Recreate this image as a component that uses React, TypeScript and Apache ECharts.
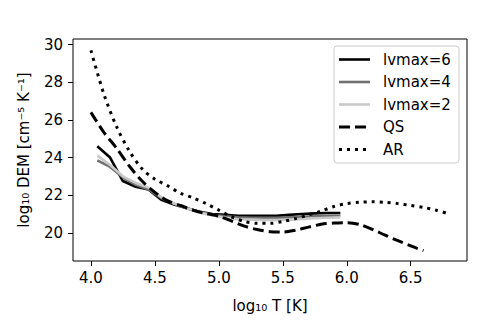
import React, { useEffect, useRef } from "react";
import * as echarts from "echarts";

const tBins = [4.05, 4.15, 4.25, 4.35, 4.45, 4.55, 4.65, 4.75, 4.85, 4.95, 5.05, 5.15, 5.25, 5.35, 5.45, 5.55, 5.65, 5.75, 5.85, 5.95];
const lvmax6 = [24.6, 24.0, 22.75, 22.45, 22.3, 21.75, 21.5, 21.3, 21.12, 21.0, 20.95, 20.9, 20.9, 20.9, 20.9, 20.95, 21.0, 21.03, 21.05, 21.05];
const lvmax4 = [23.85, 23.5, 22.95, 22.55, 22.3, 21.85, 21.55, 21.3, 21.1, 20.95, 20.87, 20.82, 20.8, 20.8, 20.8, 20.82, 20.85, 20.88, 20.9, 20.9];
const lvmax2 = [24.1, 23.6, 23.0, 22.65, 22.4, 21.9, 21.55, 21.3, 21.08, 20.92, 20.8, 20.72, 20.7, 20.68, 20.68, 20.7, 20.73, 20.77, 20.8, 20.82];

const tQS = [4.0, 4.1, 4.2, 4.3, 4.4, 4.5, 4.6, 4.7, 4.8, 4.9, 5.0, 5.1, 5.2, 5.3, 5.4, 5.5, 5.6, 5.7, 5.8, 5.9, 6.0, 6.1, 6.2, 6.3, 6.4, 6.5, 6.6];
const qs = [26.4, 25.35, 24.5, 23.55, 22.75, 22.15, 21.7, 21.45, 21.2, 21.02, 20.88, 20.62, 20.35, 20.17, 20.06, 20.04, 20.14, 20.3, 20.45, 20.52, 20.54, 20.44, 20.18, 19.87, 19.58, 19.3, 19.05];

const tAR = [4.0, 4.1, 4.2, 4.3, 4.4, 4.5, 4.6, 4.7, 4.8, 4.9, 5.0, 5.1, 5.2, 5.3, 5.4, 5.5, 5.6, 5.7, 5.8, 5.9, 6.0, 6.1, 6.2, 6.3, 6.4, 6.5, 6.6, 6.7, 6.8];
const ar = [29.7, 27.4, 25.65, 24.35, 23.4, 22.85, 22.5, 22.1, 21.85, 21.55, 21.2, 20.85, 20.6, 20.5, 20.5, 20.6, 20.75, 20.95, 21.15, 21.4, 21.55, 21.62, 21.65, 21.62, 21.55, 21.45, 21.35, 21.2, 21.0];

const xTicks = [4.0, 4.5, 5.0, 5.5, 6.0, 6.5];
const yTicks = [20, 22, 24, 26, 28, 30];

const legendItems = ["lvmax=6", "lvmax=4", "lvmax=2", "QS", "AR"];

const FONT = "DejaVu Sans";
const FS = 15;

function pairs(xs: number[], ys: number[]) {
  return xs.map((x, i) => [x, ys[i]]);
}

export default function App() {
  const ref = useRef<HTMLDivElement>(null);
  useEffect(() => {
    if (!ref.current) return;
    const chart = echarts.init(ref.current, null, { renderer: "svg" });
    const lineStyles: any[] = [
      { color: "#000000", width: 2.6, type: "solid" },
      { color: "#707070", width: 2.6, type: "solid" },
      { color: "#c8c8c8", width: 2.6, type: "solid" },
      { color: "#000000", width: 3, type: [11, 5] },
      { color: "#000000", width: 3, type: [3, 5] },
    ];
    const legendGraphics: any[] = [
      {
        type: "rect",
        shape: { x: 334, y: 46, width: 125, height: 117, r: 3 },
        style: { fill: "rgba(255,255,255,0.8)", stroke: "#cccccc", lineWidth: 1 },
        z: 100,
      },
    ];
    const rowsY = [59.5, 82, 104.5, 127, 149.5];
    legendItems.forEach((name, i) => {
      const ls = lineStyles[i];
      legendGraphics.push({
        type: "line",
        shape: { x1: 339, y1: rowsY[i], x2: 370, y2: rowsY[i] },
        style: {
          stroke: ls.color,
          lineWidth: ls.width,
          lineDash: ls.type === "solid" ? null : ls.type,
        },
        z: 101,
      });
      legendGraphics.push({
        type: "text",
        x: 383,
        y: rowsY[i],
        style: {
          text: name,
          fill: "#000000",
          font: `${FS}px "${FONT}"`,
          verticalAlign: "middle",
          align: "left",
        },
        z: 101,
      });
    });

    const mk = (name: string, data: number[][], i: number, smooth: boolean | number) => ({
      name,
      type: "line",
      data,
      showSymbol: false,
      symbol: "none",
      smooth,
      lineStyle: { ...lineStyles[i], cap: "butt", join: "round" },
      z: 2 + i,
    });

    chart.setOption({
      animation: false,
      backgroundColor: "#ffffff",
      grid: {
        left: 73,
        right: 24,
        top: 39,
        bottom: 66,
        show: true,
        borderColor: "#000000",
        borderWidth: 1,
        backgroundColor: "transparent",
        containLabel: false,
      },
      xAxis: {
        type: "value",
        min: 3.86,
        max: 6.94,
        name: "log₁₀ T [K]",
        nameLocation: "middle",
        nameGap: 37,
        nameTextStyle: { fontFamily: FONT, fontSize: FS, color: "#000" },
        axisLine: { show: false },
        splitLine: { show: false },
        axisTick: { show: true, length: 5, inside: false, customValues: xTicks, lineStyle: { color: "#000", width: 1 } },
        axisLabel: {
          customValues: xTicks,
          formatter: (v: number) => v.toFixed(1),
          fontFamily: FONT,
          fontSize: FS,
          color: "#000",
          margin: 9,
        },
      },
      yAxis: {
        type: "value",
        min: 18.5,
        max: 30.3,
        name: "log₁₀ DEM [cm⁻⁵ K⁻¹]",
        nameLocation: "middle",
        nameGap: 42,
        nameTextStyle: { fontFamily: FONT, fontSize: FS, color: "#000" },
        axisLine: { show: false },
        splitLine: { show: false },
        axisTick: { show: true, length: 5, inside: false, customValues: yTicks, lineStyle: { color: "#000", width: 1 } },
        axisLabel: {
          customValues: yTicks,
          formatter: (v: number) => String(Math.round(v)),
          fontFamily: FONT,
          fontSize: FS,
          color: "#000",
          margin: 10,
        },
      },
      series: [
        mk("lvmax=2", pairs(tBins, lvmax2), 2, false),
        mk("lvmax=4", pairs(tBins, lvmax4), 1, false),
        mk("lvmax=6", pairs(tBins, lvmax6), 0, false),
        mk("QS", pairs(tQS, qs), 3, 0.3),
        mk("AR", pairs(tAR, ar), 4, 0.3),
      ],
      graphic: legendGraphics,
    });
    return () => chart.dispose();
  }, []);
  return <div ref={ref} style={{ width: 491, height: 327, position: "absolute", left: 0, top: 0 }} />;
}
